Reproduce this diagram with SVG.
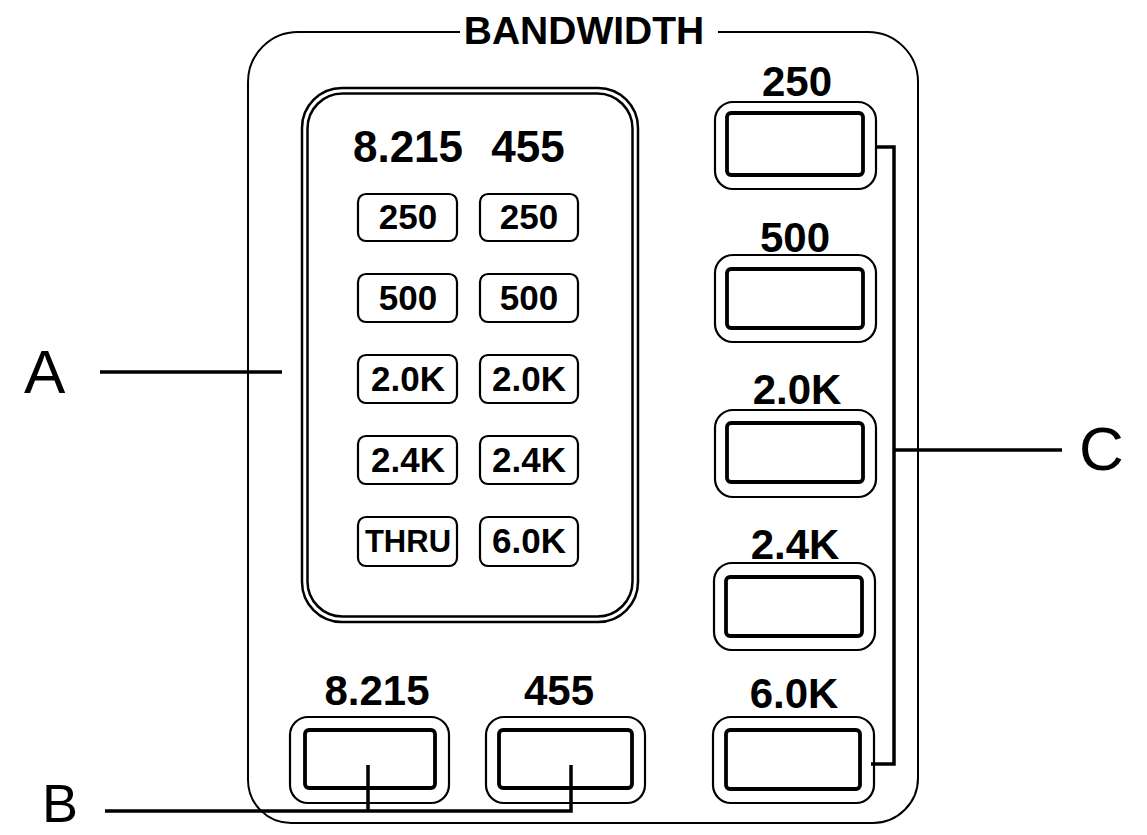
<svg xmlns="http://www.w3.org/2000/svg" width="1147" height="835" viewBox="0 0 1147 835">
<style>
text{font-family:"Liberation Sans",Arial,sans-serif;fill:#000;text-anchor:middle}
.b{font-weight:bold}
.hdr{font-size:42px;font-weight:bold}
.sm{font-size:35px;font-weight:bold}
.big{font-size:62px;text-anchor:start}
.sbtn{fill:#fff;stroke:#000;stroke-width:2.2}
.bo{fill:#fff;stroke:#000;stroke-width:2.2}
.bi{fill:#fff;stroke:#000;stroke-width:3.8}
.thin{fill:none;stroke:#000;stroke-width:2}
.conn{fill:none;stroke:#000;stroke-width:3.5}
</style>
<rect width="1147" height="835" fill="#fff"/>
<g id="panel">
<path class="thin" d="M460,32 H298 A50,50 0 0 0 248,82 V780 A43,43 0 0 0 291,823 H873 A45,45 0 0 0 918,778 V82 A50,50 0 0 0 868,32 H718"/>
<text class="b" x="584" y="44" style="font-size:39px">BANDWIDTH</text>
</g>
<g id="panelA">
<rect x="302" y="88" width="336" height="534" rx="40" fill="none" stroke="#000" stroke-width="2.5"/>
<rect x="307.5" y="93.5" width="325" height="523" rx="35" fill="none" stroke="#000" stroke-width="2.5"/>
<text class="hdr" x="408" y="162" style="font-size:44px">8.215</text>
<text class="hdr" x="528" y="162" style="font-size:44px">455</text>
</g>
<g id="small-buttons">
<g id="s-8215-250"><rect class="sbtn" x="358" y="194" width="99" height="47" rx="8"/><text class="sm" x="408" y="229">250</text></g>
<g id="s-455-250"><rect class="sbtn" x="480" y="194" width="98" height="47" rx="8"/><text class="sm" x="529" y="229">250</text></g>
<g id="s-8215-500"><rect class="sbtn" x="358" y="274" width="99" height="48" rx="8"/><text class="sm" x="408" y="310">500</text></g>
<g id="s-455-500"><rect class="sbtn" x="480" y="274" width="98" height="48" rx="8"/><text class="sm" x="529" y="310">500</text></g>
<g id="s-8215-2k"><rect class="sbtn" x="358" y="355" width="99" height="48" rx="8"/><text class="sm" x="408" y="391">2.0K</text></g>
<g id="s-455-2k"><rect class="sbtn" x="480" y="355" width="98" height="48" rx="8"/><text class="sm" x="529" y="391">2.0K</text></g>
<g id="s-8215-24k"><rect class="sbtn" x="358" y="436" width="99" height="48" rx="8"/><text class="sm" x="408" y="472">2.4K</text></g>
<g id="s-455-24k"><rect class="sbtn" x="480" y="436" width="98" height="48" rx="8"/><text class="sm" x="529" y="472">2.4K</text></g>
<g id="s-8215-thru"><rect class="sbtn" x="358" y="517" width="99" height="49" rx="8"/><text class="sm" x="408" y="552" style="font-size:31px">THRU</text></g>
<g id="s-455-6k"><rect class="sbtn" x="480" y="517" width="98" height="49" rx="8"/><text class="sm" x="529" y="553">6.0K</text></g>
</g>
<g id="right-buttons">
<g id="r-250"><text class="hdr" x="797" y="96">250</text><rect class="bo" x="715" y="102" width="161" height="87" rx="18"/><rect class="bi" x="727" y="113" width="136" height="62" rx="4"/></g>
<g id="r-500"><text class="hdr" x="795" y="252">500</text><rect class="bo" x="715" y="255" width="161" height="87" rx="18"/><rect class="bi" x="727" y="269" width="136" height="59" rx="4"/></g>
<g id="r-2k"><text class="hdr" x="797" y="404">2.0K</text><rect class="bo" x="715" y="410" width="161" height="87" rx="18"/><rect class="bi" x="727" y="423" width="136" height="59" rx="4"/></g>
<g id="r-24k"><text class="hdr" x="795" y="559">2.4K</text><rect class="bo" x="714" y="563" width="161" height="87" rx="18"/><rect class="bi" x="726" y="577" width="136" height="59" rx="4"/></g>
<g id="r-6k"><text class="hdr" x="794" y="708">6.0K</text><rect class="bo" x="713" y="717" width="161" height="86" rx="18"/><rect class="bi" x="726" y="730" width="134" height="59" rx="4"/></g>
</g>
<g id="bottom-buttons">
<g id="b-8215"><text class="hdr" x="377" y="705">8.215</text><rect class="bo" x="290" y="717" width="159" height="86" rx="18"/><rect class="bi" x="305" y="730" width="130" height="58" rx="4"/></g>
<g id="b-455"><text class="hdr" x="559" y="705">455</text><rect class="bo" x="486" y="717" width="159" height="86" rx="18"/><rect class="bi" x="499" y="730" width="133" height="58" rx="4"/></g>
</g>
<g id="connectors">
<path class="conn" d="M876,147 H894 V764 H871"/>
<path class="conn" stroke-width="3" d="M894,450 H1062"/>
<path class="conn" stroke-width="3" d="M100,372 H282"/>
<path class="conn" d="M105,811 H571 V765 M368,765 V811"/>
</g>
<g id="labels">
<text class="big" x="24" y="393">A</text>
<text class="big" x="42" y="822" style="font-size:54px">B</text>
<text class="big" x="1079" y="470">C</text>
</g>
</svg>
